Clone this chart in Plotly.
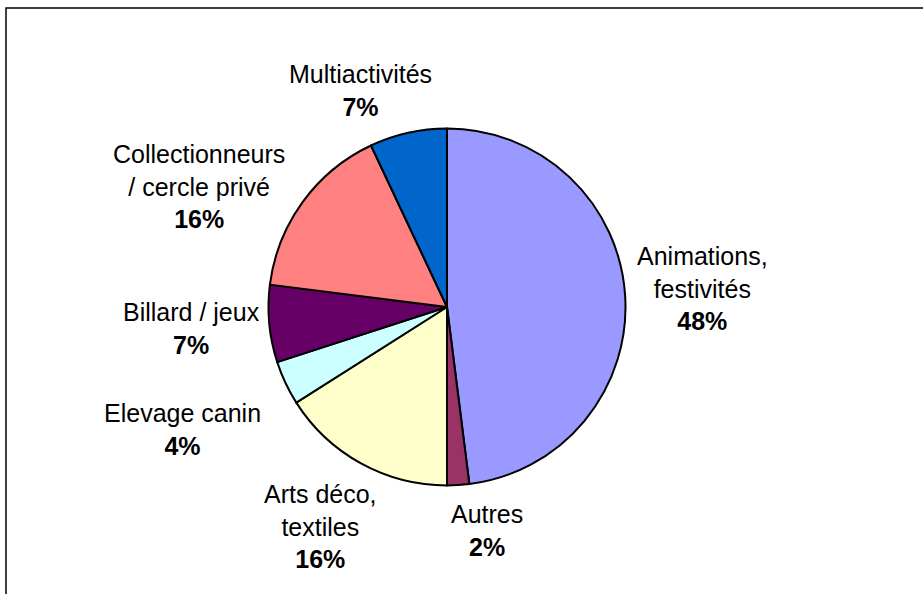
import math
import plotly.graph_objects as go

# Répartition des associations par type d'activité (ordre horaire depuis midi)
categories = [
    "Animations,<br>festivités",
    "Autres",
    "Arts déco,<br>textiles",
    "Elevage canin",
    "Billard / jeux",
    "Collectionneurs<br>/ cercle privé",
    "Multiactivités",
]
shares = [48, 2, 16, 4, 7, 16, 7]
slice_colors = ["#9999FF", "#993366", "#FFFFCC", "#CCFFFF", "#660066", "#FF8080", "#0066CC"]

# Décalage (px) de chaque étiquette par rapport au bord de sa part
label_offsets = [(77, -7), (29, 45), (-41, 63), (-103, 46), (-78, 5), (-104, -16), (-48, -42)]

W, H = 923, 594
cx, cy, radius = 447, 307, 178.5

fig = go.Figure(
    go.Pie(
        labels=categories,
        values=shares,
        sort=False,
        direction="clockwise",
        rotation=0,
        textinfo="none",
        hoverinfo="label+percent",
        marker=dict(colors=slice_colors, line=dict(color="black", width=2)),
        domain=dict(
            x=[(cx - radius) / W, (cx + radius) / W],
            y=[(H - cy - radius) / H, (H - cy + radius) / H],
        ),
        showlegend=False,
    )
)

# Étiquettes : ancrées au bord du disque sur l'angle médian de chaque part
total = sum(shares)
start = 0.0
annotations = []
for name, value, (dx, dy) in zip(categories, shares, label_offsets):
    span = 360.0 * value / total
    mid = math.radians(start + span / 2)
    start += span
    ex = cx + radius * math.sin(mid)
    ey = cy - radius * math.cos(mid)
    annotations.append(
        dict(
            x=ex / W,
            y=1 - ey / H,
            xref="paper",
            yref="paper",
            xanchor="center",
            yanchor="middle",
            xshift=dx,
            yshift=-dy,
            showarrow=False,
            align="center",
            text=f"{name}<br><b>{value / total:.0%}</b>",
            font=dict(family="Liberation Sans, Arial, sans-serif", size=25, color="black"),
        )
    )

fig.update_layout(
    width=W,
    height=H,
    margin=dict(l=0, r=0, t=0, b=0),
    paper_bgcolor="white",
    plot_bgcolor="white",
    annotations=annotations,
    shapes=[
        dict(
            type="rect",
            xref="paper",
            yref="paper",
            x0=6 / W,
            x1=1.05,
            y0=-0.05,
            y1=1 - 8 / H,
            line=dict(color="black", width=1.5),
            fillcolor="rgba(0,0,0,0)",
            layer="below",
        )
    ],
)

fig.write_html("out.html")
